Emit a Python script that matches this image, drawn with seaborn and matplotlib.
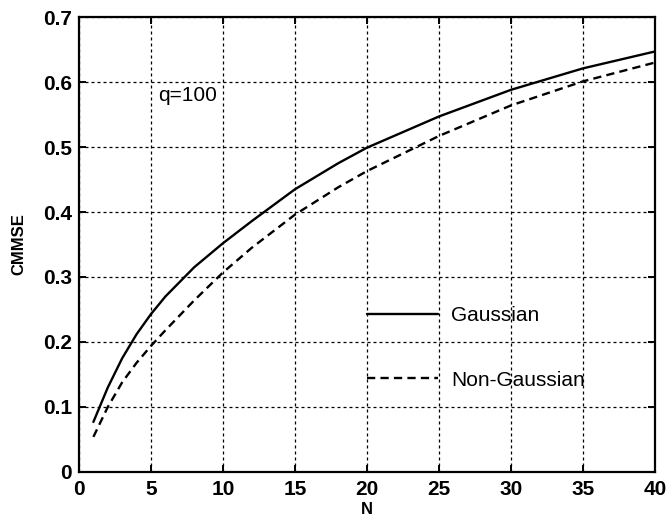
import matplotlib
matplotlib.use("Agg")
import matplotlib.pyplot as plt
import numpy as np
import pandas as pd
import seaborn as sns

# values
n_values = [1, 2, 3, 4, 5, 6, 8, 10, 12, 15, 18, 20, 25, 30, 35, 40]
gaussian = [0.077, 0.130, 0.175, 0.212, 0.243, 0.270, 0.315, 0.352, 0.386,
            0.435, 0.475, 0.499, 0.547, 0.588, 0.621, 0.647]
non_gaussian = [0.054, 0.100, 0.138, 0.168, 0.194, 0.218, 0.264, 0.307, 0.345,
                0.396, 0.438, 0.463, 0.517, 0.564, 0.601, 0.630]
series_names = ["Gaussian", "Non-Gaussian"]

x_ticks = [0, 5, 10, 15, 20, 25, 30, 35, 40]
y_ticks = [0, 0.1, 0.2, 0.3, 0.4, 0.5, 0.6, 0.7]
y_tick_labels = ["0", "0.1", "0.2", "0.3", "0.4", "0.5", "0.6", "0.7"]
annotation = "q=100"

df = pd.concat([
    pd.DataFrame({"N": n_values, "CMMSE": gaussian, "model": series_names[0]}),
    pd.DataFrame({"N": n_values, "CMMSE": non_gaussian, "model": series_names[1]}),
])

sns.set_style("ticks")
plt.rcParams["font.family"] = ["Liberation Sans", "DejaVu Sans"]
plt.rcParams["text.color"] = "black"
plt.rcParams["axes.labelcolor"] = "black"

fig = plt.figure(figsize=(6.7, 5.19), dpi=100)
ax = fig.add_axes([0.1179, 0.0906, 0.8597, 0.8766])

sns.lineplot(
    data=df, x="N", y="CMMSE", style="model", style_order=series_names,
    dashes={"Gaussian": "", "Non-Gaussian": (3.5, 2.2)},
    color="black", linewidth=1.7, ax=ax,
)

ax.set_xlim(0, 40)
ax.set_ylim(0, 0.7)
ax.set_xticks(x_ticks)
ax.set_yticks(y_ticks)
ax.set_yticklabels(y_tick_labels)
ax.grid(True, color="black", linestyle=(0, (2.4, 2.4)), linewidth=0.9)

for side in ["left", "right", "top", "bottom"]:
    ax.spines[side].set_visible(True)
    ax.spines[side].set_linewidth(1.6)
    ax.spines[side].set_color("black")

ax.tick_params(direction="in", length=5, width=1.4, top=True, right=True,
               labelsize=15, colors="black")
ax.tick_params(axis="x", pad=6)
ax.tick_params(axis="y", pad=5)
for lbl in ax.get_xticklabels() + ax.get_yticklabels():
    lbl.set_fontweight("bold")

ax.set_xlabel("N", fontsize=12, fontweight="bold", labelpad=2)
ax.set_ylabel("CMMSE", fontsize=12, fontweight="bold", labelpad=12)

ax.text(5.5, 0.58, annotation, fontsize=15, va="center", ha="left")

handles, labels = ax.get_legend_handles_labels()
leg = ax.legend(handles, labels, loc="upper left", bbox_to_anchor=(0.5, 0.365),
                frameon=False, fontsize=15, handlelength=3.4, handletextpad=0.65,
                labelspacing=2.2, borderpad=0, borderaxespad=0)
for t in leg.get_texts():
    t.set_color("black")

fig.savefig("out.png", dpi=100)
